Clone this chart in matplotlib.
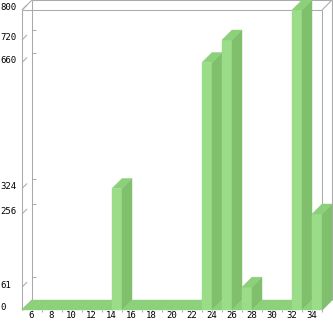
import matplotlib
matplotlib.use('Agg')
import matplotlib.pyplot as plt
import matplotlib.transforms as mtransforms
from matplotlib.patches import Polygon

# Data
categories = list(range(6, 36))
heights = [0, 0, 0, 0, 0, 0, 0, 0, 0, 324,
           0, 0, 0, 0, 0, 0, 0, 0, 660, 0,
           720, 0, 61, 0, 0, 0, 0, 800, 0, 256]
y_ticks = [0, 61, 256, 324, 660, 720, 800]
y_tick_labels = ['0', '61', '256', '324', '660', '720', '800']
x_ticks = list(range(6, 35, 2))
x_tick_labels = [str(v) for v in x_ticks]

W, H = 333, 321
FRONT = '#9bdc88'
SIDE = '#80c06d'
TOP = '#8dd07a'
GRID = '#aaaaaa'

fig = plt.figure(figsize=(W / 100, H / 100), dpi=100)
ax = fig.add_axes([22 / W, 11 / H, 300 / W, 300 / H])
x0, x1 = 5.5, 35.5
y0, y1 = 0, 800
ax.set_xlim(x0, x1)
ax.set_ylim(y0, y1)
ax.axis('off')

# 3D depth: 10px right and 10px up
dx = 1.0
dy = (y1 - y0) / 300 * 10

lw = 0.75

def line(xs, ys, z=1):
    ax.plot(xs, ys, color=GRID, lw=lw, clip_on=False, zorder=z,
            solid_capstyle='butt')

# box frame
line([x0, x0], [y0, y1])
line([x0, x1], [y1, y1])
line([x1, x1], [y0, y1])
line([x0 + dx, x0 + dx], [dy, y1 + dy])
line([x0 + dx, x1 + dx], [y1 + dy, y1 + dy])
line([x1 + dx, x1 + dx], [dy, y1 + dy])
line([x0, x0 + dx], [y1, y1 + dy])
line([x1, x1 + dx], [y1, y1 + dy])
line([x0, x0 + dx], [y0, dy])
line([x1, x1 + dx], [y0, dy])

# y ticks: diagonal on the front edge, short dash on the back wall
for v in y_ticks:
    line([x0, x0 + dx / 2], [v, v + dy / 2])
    line([x0 + dx, x0 + dx + 0.4], [v + dy, v + dy])

# x ticks
for c in categories:
    line([c + 0.5, c + 0.5], [y0, y0 - 5])

# bars, left to right so nearer faces cover side faces
for c, h in zip(categories, heights):
    top = [(c - 0.5, h), (c + 0.5, h), (c + 0.5 + dx, h + dy), (c - 0.5 + dx, h + dy)]
    if h > 0:
        front = [(c - 0.5, 0), (c + 0.5, 0), (c + 0.5, h), (c - 0.5, h)]
        side = [(c + 0.5, 0), (c + 0.5 + dx, dy), (c + 0.5 + dx, h + dy), (c + 0.5, h)]
        for pts, col in [(front, FRONT), (side, SIDE)]:
            ax.add_patch(Polygon(pts, closed=True, facecolor=col, edgecolor=col,
                                 lw=0.3, clip_on=False, zorder=3))
    ax.add_patch(Polygon(top, closed=True, facecolor=TOP, edgecolor=TOP,
                         lw=0.3, clip_on=False, zorder=3))

font = dict(family='DejaVu Sans Mono', fontsize=6.5, color='black')

# y tick labels, left aligned at image edge
ytrans = mtransforms.blended_transform_factory(fig.transFigure, ax.transData)
for v, lab in zip(y_ticks, y_tick_labels):
    ax.text(0.0, v + 2 * (y1 - y0) / 300, lab, transform=ytrans,
            ha='left', va='center', **font)

# x tick labels
xtrans = mtransforms.blended_transform_factory(ax.transData, fig.transFigure)
for v, lab in zip(x_ticks, x_tick_labels):
    ax.text(v + 0.45, (H - 316) / H, lab, transform=xtrans,
            ha='center', va='center', **font)

fig.savefig('out.png', dpi=100)
